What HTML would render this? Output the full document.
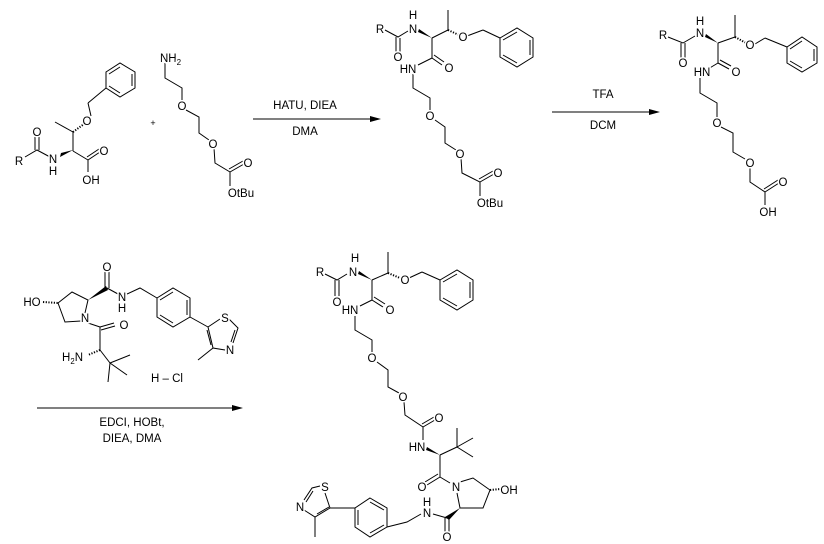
<!DOCTYPE html>
<html><head><meta charset="utf-8"><style>
html,body{margin:0;padding:0;background:#fff;}
svg{display:block;}
text{font-family:"Liberation Sans",Arial,sans-serif;font-size:11.5px;fill:#000;stroke:#fff;stroke-width:3px;paint-order:stroke;}
.c{text-anchor:middle;}
line,polyline,polygon{stroke:#000;stroke-width:1;fill:none;}
.w{fill:#000;stroke:none;}
.h{stroke-dasharray:1.2 1.5;stroke-width:2;}
</style></head><body>
<svg width="824" height="544" viewBox="0 0 824 544" xmlns="http://www.w3.org/2000/svg">

<!-- ===== Starting material 1 ===== -->
<polyline points="25,157 37,150 50,157"/>
<line x1="35" y1="150" x2="35" y2="136"/><line x1="39" y1="150" x2="39" y2="136"/>
<polygon class="w" points="60,157 73,150 61,153"/>
<line x1="73" y1="151" x2="73" y2="132"/>
<line x1="73" y1="132" x2="55" y2="122"/>
<line class="h" x1="73" y1="132" x2="84" y2="124"/>
<line x1="91" y1="116" x2="88" y2="103"/>
<line x1="88" y1="103" x2="106" y2="88"/>
<polygon points="106,72 120,63 135,72 135,88 120,97 106,88"/>
<line x1="109" y1="74" x2="120" y2="67"/><line x1="132" y1="74" x2="132" y2="86"/><line x1="109" y1="86" x2="120" y2="93"/>
<line x1="73" y1="151" x2="88" y2="160"/>
<line x1="88" y1="160" x2="100" y2="152"/><line x1="87" y1="157" x2="99" y2="149"/>
<line x1="88" y1="160" x2="88" y2="172"/>
<text x="19" y="165" class="c">R</text>
<text x="37" y="136" class="c">O</text>
<text x="53" y="163" class="c">N</text>
<text x="53" y="175" class="c">H</text>
<text x="87" y="125" class="c">O</text>
<text x="104" y="155" class="c">O</text>
<text x="91" y="184" class="c">OH</text>
<text x="153" y="126" class="c" style="font-size:9px">+</text>

<!-- ===== PEG amine ===== -->
<polyline points="165,63 165,78 182,88 182,100"/>
<polyline points="186,110 199,117 199,133 209,140"/>
<polyline points="214,148 215,163 230,172 230,186"/>
<line x1="230" y1="172" x2="244" y2="164"/><line x1="229" y1="169" x2="243" y2="161"/>
<text x="160" y="62">NH<tspan dy="3" style="font-size:8px">2</tspan></text>
<text x="182" y="110" class="c">O</text>
<text x="213" y="148" class="c">O</text>
<text x="248" y="167" class="c">O</text>
<text x="241" y="197" class="c">OtBu</text>

<!-- Arrow 1 -->
<line x1="253" y1="119" x2="374" y2="119"/>
<polygon class="w" points="381,119 370,116 370,122"/>
<text x="305" y="109" class="c">HATU, DIEA</text>
<text x="305" y="135" class="c">DMA</text>

<!-- ===== Product 1 ===== -->
<polyline points="385,30 398,37 408,31"/>
<line x1="396" y1="37" x2="396" y2="52"/><line x1="400" y1="38" x2="400" y2="52"/>
<polygon class="w" points="418,32 432,38 419,29"/>
<line x1="432" y1="38" x2="448" y2="30"/>
<line x1="448" y1="30" x2="448" y2="10"/>
<line class="h" x1="448" y1="30" x2="459" y2="35"/>
<line x1="467" y1="36" x2="483" y2="30"/>
<line x1="483" y1="30" x2="500" y2="38"/>
<polygon points="500,38 517,28 533,38 533,57 517,67 500,57"/>
<line x1="503" y1="40" x2="517" y2="32"/><line x1="530" y1="40" x2="530" y2="55"/><line x1="503" y1="55" x2="517" y2="63"/>
<line x1="432" y1="38" x2="432" y2="58"/>
<line x1="432" y1="58" x2="442" y2="65"/><line x1="434" y1="55" x2="444" y2="62"/>
<line x1="432" y1="58" x2="418" y2="65"/>
<polyline points="413,74 413,88 430,98 430,110"/>
<polyline points="435,120 445,127 445,143 456,150"/>
<polyline points="461,158 462,173 480,182 480,196"/>
<line x1="480" y1="182" x2="494" y2="174"/><line x1="479" y1="179" x2="493" y2="171"/>
<text x="380" y="33" class="c">R</text>
<text x="398" y="61" class="c">O</text>
<text x="413" y="33" class="c">N</text>
<text x="413" y="19" class="c">H</text>
<text x="463" y="41" class="c">O</text>
<text x="449" y="72" class="c">O</text>
<text x="408" y="73" class="c">HN</text>
<text x="430" y="120" class="c">O</text>
<text x="460" y="158" class="c">O</text>
<text x="498" y="177" class="c">O</text>
<text x="490" y="207" class="c">OtBu</text>

<!-- Arrow 2 -->
<line x1="552" y1="112" x2="653" y2="112"/>
<polygon class="w" points="660,112 649,109 649,115"/>
<text x="603" y="98" class="c">TFA</text>
<text x="603" y="129" class="c">DCM</text>

<!-- ===== Product 2 ===== -->
<polyline points="668,37 683,43 695,36"/>
<line x1="681" y1="43" x2="681" y2="58"/><line x1="685" y1="43" x2="685" y2="58"/>
<polygon class="w" points="705,37 718,43 706,34"/>
<line x1="718" y1="43" x2="735" y2="37"/>
<line x1="735" y1="37" x2="735" y2="15"/>
<line class="h" x1="735" y1="37" x2="746" y2="43"/>
<line x1="755" y1="44" x2="765" y2="38"/>
<line x1="765" y1="38" x2="787" y2="47"/>
<polygon points="787,47 802,37 817,47 817,63 802,72 787,63"/>
<line x1="790" y1="49" x2="802" y2="41"/><line x1="814" y1="49" x2="814" y2="61"/><line x1="790" y1="61" x2="802" y2="68"/>
<line x1="718" y1="43" x2="718" y2="63"/>
<line x1="718" y1="63" x2="729" y2="69"/><line x1="720" y1="60" x2="731" y2="66"/>
<line x1="718" y1="63" x2="708" y2="69"/>
<polyline points="700,78 700,93 717,103 717,117"/>
<polyline points="721,127 733,133 733,152 745,159"/>
<polyline points="750,168 750,182 765,192 765,205"/>
<line x1="765" y1="192" x2="779" y2="183"/><line x1="764" y1="189" x2="778" y2="180"/>
<text x="663" y="39" class="c">R</text>
<text x="683" y="67" class="c">O</text>
<text x="700" y="37" class="c">N</text>
<text x="700" y="25" class="c">H</text>
<text x="750" y="49" class="c">O</text>
<text x="736" y="76" class="c">O</text>
<text x="702" y="76" class="c">HN</text>
<text x="717" y="127" class="c">O</text>
<text x="750" y="167" class="c">O</text>
<text x="783" y="186" class="c">O</text>
<text x="768" y="216" class="c">OH</text>

<!-- ===== VHL amine ===== -->
<line class="h" x1="43" y1="302" x2="58" y2="303"/>
<polyline points="58,303 72,292 88,300 85,313"/>
<polyline points="81,321 65,322 58,303"/>
<polygon class="w" points="88,300 106,286 108,290"/>
<line x1="105" y1="288" x2="105" y2="271"/><line x1="109" y1="288" x2="109" y2="271"/>
<line x1="107" y1="288" x2="118" y2="294"/>
<polyline points="127,294 140,288 157,298"/>
<polygon points="157,298 173,288 190,298 190,317 173,327 157,317"/>
<line x1="160" y1="300" x2="173" y2="292"/><line x1="187" y1="300" x2="187" y2="315"/><line x1="160" y1="315" x2="173" y2="323"/>
<line x1="190" y1="317" x2="208" y2="327"/>
<polyline points="208,327 220,319"/>
<polyline points="229,319 238,328 233,343"/>
<line x1="235" y1="330" x2="231" y2="342"/>
<polyline points="225,350 213,348 208,327"/>
<line x1="211" y1="345" x2="207" y2="330"/>
<line x1="213" y1="348" x2="198" y2="360"/>
<line x1="88" y1="323" x2="100" y2="327"/>
<line x1="100" y1="327" x2="114" y2="323"/><line x1="101" y1="330" x2="115" y2="326"/>
<line x1="100" y1="327" x2="100" y2="350"/>
<line class="h" x1="100" y1="350" x2="88" y2="355"/>
<line x1="100" y1="350" x2="110" y2="363"/>
<line x1="110" y1="363" x2="130" y2="355"/>
<line x1="110" y1="363" x2="127" y2="375"/>
<line x1="110" y1="363" x2="108" y2="382"/>
<text x="32" y="306" class="c">HO</text>
<text x="85" y="322" class="c">N</text>
<text x="107" y="271" class="c">O</text>
<text x="122" y="301" class="c">N</text>
<text x="122" y="312" class="c">H</text>
<text x="225" y="322" class="c">S</text>
<text x="230" y="354" class="c">N</text>
<text x="124" y="329" class="c">O</text>
<text x="62" y="361">H<tspan dy="3" style="font-size:8px">2</tspan><tspan dy="-3">N</tspan></text>
<text x="167" y="382" class="c">H – Cl</text>

<!-- Arrow 3 -->
<line x1="37" y1="408" x2="236" y2="408"/>
<polygon class="w" points="243,408 232,405 232,411"/>
<text x="132" y="426" class="c">EDCI, HOBt,</text>
<text x="132" y="442" class="c">DIEA, DMA</text>

<!-- ===== Final product ===== -->
<polyline points="325,274 337,280 347,274"/>
<line x1="335" y1="280" x2="335" y2="296"/><line x1="339" y1="280" x2="339" y2="296"/>
<polygon class="w" points="358,274 372,280 359,271"/>
<line x1="372" y1="280" x2="388" y2="273"/>
<line x1="388" y1="273" x2="388" y2="252"/>
<line class="h" x1="388" y1="273" x2="400" y2="278"/>
<line x1="409" y1="278" x2="422" y2="272"/>
<line x1="422" y1="272" x2="440" y2="280"/>
<polygon points="440,280 457,270 473,280 473,300 457,310 440,300"/>
<line x1="443" y1="282" x2="457" y2="274"/><line x1="470" y1="282" x2="470" y2="298"/><line x1="443" y1="298" x2="457" y2="306"/>
<line x1="372" y1="280" x2="372" y2="300"/>
<line x1="372" y1="300" x2="383" y2="307"/><line x1="374" y1="297" x2="385" y2="304"/>
<line x1="372" y1="300" x2="360" y2="306"/>
<polyline points="355,316 355,330 372,340 372,352"/>
<polyline points="377,362 388,370 388,387 399,393"/>
<polyline points="404,402 405,415 423,427 423,440"/>
<line x1="423" y1="427" x2="435" y2="420"/><line x1="422" y1="424" x2="434" y2="417"/>
<polygon class="w" points="426,450 440,455 427,447"/>
<line x1="440" y1="455" x2="457" y2="447"/>
<line x1="457" y1="447" x2="457" y2="428"/>
<line x1="457" y1="447" x2="473" y2="438"/>
<line x1="457" y1="447" x2="473" y2="457"/>
<line x1="440" y1="455" x2="440" y2="477"/>
<line x1="440" y1="477" x2="427" y2="485"/><line x1="438" y1="474" x2="425" y2="482"/>
<line x1="440" y1="477" x2="450" y2="483"/>
<polyline points="460,482 473,478 490,490 483,508 460,508 457,493"/>
<line class="h" x1="490" y1="490" x2="500" y2="489"/>
<polygon class="w" points="460,508 445,517 449,520"/>
<line x1="445" y1="518" x2="445" y2="532"/><line x1="449" y1="518" x2="449" y2="532"/>
<line x1="447" y1="518" x2="433" y2="514"/>
<polyline points="421,514 407,522 387,527"/>
<polygon points="370,498 387,508 387,527 370,537 355,527 355,508"/>
<line x1="370" y1="502" x2="384" y2="510"/><line x1="384" y1="525" x2="370" y2="533"/><line x1="358" y1="510" x2="358" y2="525"/>
<line x1="355" y1="508" x2="330" y2="508"/>
<line x1="330" y1="508" x2="325" y2="493"/>
<polyline points="320,486 312,488 304,500"/>
<line x1="313" y1="491" x2="306" y2="502"/>
<polyline points="304,510 315,517 330,508"/>
<line x1="317" y1="514" x2="329" y2="507"/>
<line x1="315" y1="517" x2="315" y2="537"/>
<text x="320" y="276" class="c">R</text>
<text x="337" y="306" class="c">O</text>
<text x="353" y="276" class="c">N</text>
<text x="355" y="262" class="c">H</text>
<text x="405" y="284" class="c">O</text>
<text x="390" y="314" class="c">O</text>
<text x="350" y="314" class="c">HN</text>
<text x="372" y="362" class="c">O</text>
<text x="403" y="401" class="c">O</text>
<text x="439" y="422" class="c">O</text>
<text x="417" y="451" class="c">HN</text>
<text x="422" y="491" class="c">O</text>
<text x="456" y="491" class="c">N</text>
<text x="509" y="494" class="c">OH</text>
<text x="447" y="541" class="c">O</text>
<text x="427" y="517" class="c">N</text>
<text x="427" y="506" class="c">H</text>
<text x="325" y="491" class="c">S</text>
<text x="300" y="511" class="c">N</text>
</svg>
</body></html>
